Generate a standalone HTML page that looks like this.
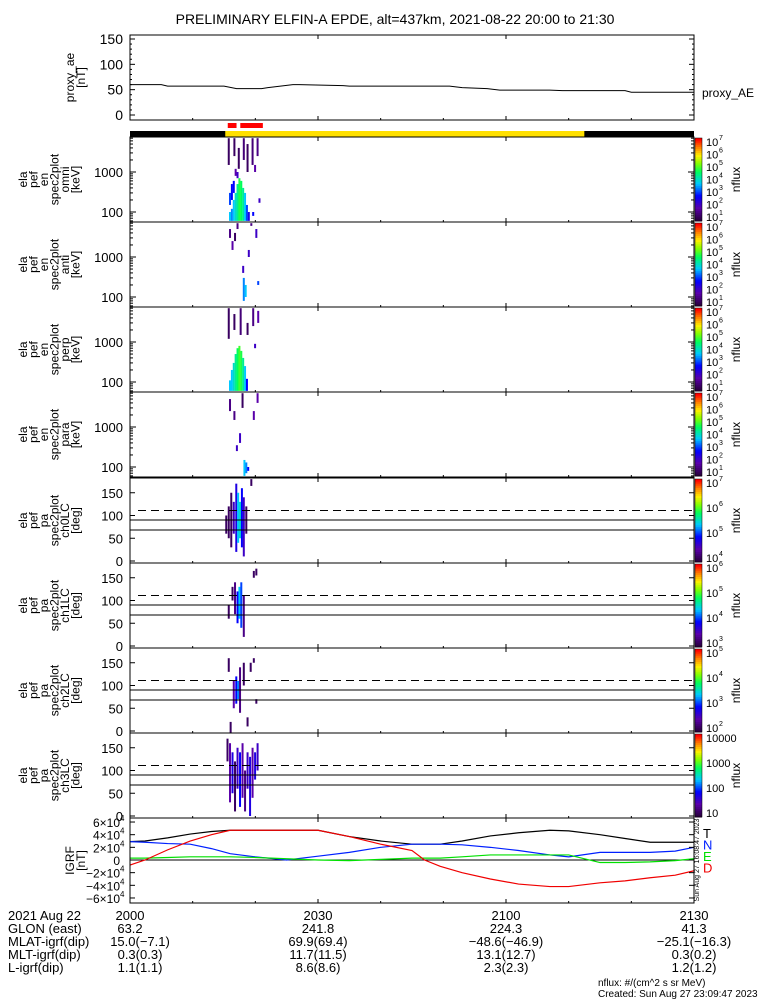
<!DOCTYPE html>
<html><head><meta charset="utf-8"><style>
html,body{margin:0;padding:0;background:#fff;}
svg{display:block;font-family:"Liberation Sans",sans-serif;}
</style></head><body>
<svg id="chart" width="775" height="1000" viewBox="0 0 775 1000" xmlns="http://www.w3.org/2000/svg">
<text x="395" y="24" font-size="14" text-anchor="middle">PRELIMINARY ELFIN-A EPDE, alt=437km, 2021-08-22 20:00 to 21:30</text>
<g id="g"></g>
</svg>
<script>
// ---------- data ----------
const aeTimes = [0, 5, 6, 15, 17, 21, 22, 26, 27, 34, 35, 51, 53, 57, 59, 67, 69, 79, 80, 90];
const aeValues = [60, 60, 57, 57, 52, 52, 54, 60, 60, 58, 57, 57, 54, 52, 49, 49, 48, 48, 45, 45];
const igrfTimes = [0, 2.4, 6, 9.6, 13, 16, 20, 25, 30, 35, 40, 45, 47, 49.5, 53, 57.5, 62, 67, 70, 75, 79, 83, 87, 90];
const igrfT = [29, 30, 35, 41, 45, 47, 47, 47, 47, 37, 30, 25, 25, 25, 30, 38, 43, 47, 46, 40, 34, 28, 28, 28];
const igrfD = [-8, 0, 16, 30, 40, 47, 47, 47, 47, 37, 25, 15, 0, -10, -20, -30, -38, -42, -42, -36, -33, -28, -24, -17];
const igrfN = [29, 28, 26, 25, 18, 10, 5, 0, 6, 12, 20, 25, 25, 25, 24, 20, 15, 8, 5, 12, 12, 12, 14, 20];
const igrfE = [3, 3, 4, 5, 5, 5, 4, 2, 0, -1, 1, 3, 3, 3, 5, 8, 8, 8, 8, -4, -4, -3, -1, 2];
const xTickLabels = ["2000", "2030", "2100", "2130"];
const xTickTimes = [0, 30, 60, 90];
const redBars = [[15.6, 17.0], [17.6, 21.2]];
const dayStart = 15.2, dayEnd = 72.5;
// spectrogram stripes: [time min, low, high, level 0..1]
const specOmni = [[15.8,60,100,.45],[15.8,150,300,.35],[16.1,60,120,.4],[16.1,200,500,.3],[16.4,60,200,.45],[16.4,300,600,.3],[16.7,60,300,.5],[16.7,800,1200,.15],[17.0,60,500,.55],[17.0,700,1000,.2],[17.3,60,700,.62],[17.6,60,600,.6],[17.9,60,400,.55],[18.2,60,300,.45],[18.5,60,150,.35],[18.8,60,100,.25],[15.6,1500,7000,.05],[16.5,2500,7000,.05],[17.2,1200,4000,.05],[18.0,2000,7000,.08],[18.6,1000,5000,.05],[19.4,1500,7000,.08],[20.2,2500,7000,.1],[19.8,1000,1500,.15],[20.5,170,220,.2],[19.5,80,100,.3]];
const specAnti = [[15.8,3000,5000,.1],[16.2,1500,2500,.15],[17.0,5000,7000,.1],[17.9,400,600,.2],[18.0,80,300,.4],[18.3,100,200,.45],[20.0,3000,5000,.2],[18.8,1000,1500,.2],[20.3,200,250,.35],[16.6,2500,4000,.05],[19.2,6000,7000,.1]];
const specPerp = [[15.8,60,110,.45],[16.1,60,200,.45],[16.4,60,300,.5],[16.7,60,500,.55],[17.0,60,700,.6],[17.3,60,800,.65],[17.6,60,600,.62],[17.9,60,400,.55],[18.2,60,250,.45],[18.5,60,120,.3],[15.6,1200,7000,.05],[16.5,2000,5000,.05],[17.5,1500,7000,.08],[18.6,1500,3000,.05],[19.5,2500,7000,.1],[20.3,3000,6000,.15],[19.8,700,900,.2]];
const specPara = [[15.8,2500,5000,.1],[16.5,1500,2500,.1],[17.4,400,700,.2],[17.8,3000,7000,.05],[18.1,60,150,.45],[18.4,70,130,.4],[18.7,80,100,.3],[19.6,1500,2500,.15],[20.2,4000,7000,.15],[16.9,250,350,.2]];
const pa0 = [[15.2,60,100,.05],[15.6,50,120,.05],[16.0,30,150,.05],[16.4,60,130,.2],[16.8,20,170,.25],[17.1,40,150,.45],[17.4,50,130,.5],[17.7,30,160,.3],[18.0,10,140,.2],[18.4,60,120,.05],[19.2,165,180,.05]];
const pa1 = [[15.6,60,90,.05],[16.2,100,130,.05],[16.6,70,140,.1],[17.0,50,120,.3],[17.3,60,130,.45],[17.6,40,140,.35],[18.0,20,110,.1],[19.6,150,165,.05],[20.0,155,170,.05]];
const pa2 = [[15.6,130,160,.05],[15.9,-10,20,.05],[16.4,50,110,.15],[16.8,60,120,.3],[17.1,70,110,.4],[17.4,40,140,.1],[18.0,100,150,.05],[19.1,130,150,.05],[19.6,150,160,.05],[18.6,10,30,.05],[20.0,60,70,.05]];
const pa3 = [[15.4,120,170,.05],[15.8,30,160,.15],[16.2,50,140,.25],[16.6,10,120,.05],[17.0,60,150,.2],[17.4,20,140,.3],[17.8,40,160,.15],[18.2,10,100,.1],[18.6,60,140,.2],[19.0,0,130,.25],[19.4,40,150,.15],[19.8,80,140,.25],[20.2,100,160,.2]];

// ---------- geometry ----------
const NS="http://www.w3.org/2000/svg";
const g=document.getElementById('g');
const X0=130,X1=694;
const xs=t=>X0+(X1-X0)*t/90;
function el(tag,attrs,parent){const e=document.createElementNS(NS,tag);for(const k in attrs)e.setAttribute(k,attrs[k]);(parent||g).appendChild(e);return e;}
function txt(s,x,y,size,anchor,parent,extra){const e=el('text',Object.assign({x:x,y:y,'font-size':size,'text-anchor':anchor||'start'},extra||{}),parent);e.textContent=s;return e;}
const stops=[[0,[40,0,60]],[.15,[90,0,170]],[.3,[0,0,255]],[.45,[0,200,255]],[.6,[0,255,90]],[.7,[130,255,0]],[.8,[255,240,0]],[.9,[255,130,0]],[1,[255,0,0]]];
function cmap(v){for(let i=1;i<stops.length;i++){if(v<=stops[i][0]){const a=stops[i-1],b=stops[i],f=(v-a[0])/(b[0]-a[0]);const c=a[1].map((q,j)=>Math.round(q+(b[1][j]-q)*f));return `rgb(${c})`;}}return 'rgb(255,0,0)';}

function frame(y0,y1,name){
  const f=el('rect',{x:X0,y:y0,width:X1-X0,height:y1-y0,fill:'none',stroke:'#000','stroke-width':1});
  
  xTickTimes.forEach(t=>{el('line',{x1:xs(t),x2:xs(t),y1:y1,y2:y1-4,stroke:'#000'});el('line',{x1:xs(t),x2:xs(t),y1:y0,y2:y0+4,stroke:'#000'});});
  for(let t=10;t<90;t+=10){if(t%30)el('line',{x1:xs(t),x2:xs(t),y1:y1,y2:y1-2,stroke:'#000'});}
}
function ylabel(lines,y0,y1,xStart,step){
  const cy=(y0+y1)/2;const grp=el('g',{});
  
  lines.forEach((s,i)=>{const x=xStart+i*step;txt(s,x,cy,12,'middle',grp,{transform:`rotate(-90 ${x} ${cy})`});});
}
function colorbar(y0,y1,labels){
  const grp=el('g',{});
  const n=40;for(let i=0;i<n;i++){el('rect',{x:695,y:y1-(i+1)*(y1-y0)/n,width:7,height:(y1-y0)/n+0.5,fill:cmap(i/(n-1))},grp);}
  el('rect',{x:695,y:y0,width:7,height:y1-y0,fill:'none',stroke:'#000','stroke-width':.5},grp);
  labels.forEach((s,i)=>{const y=y1-4-i*(y1-y0-8)/(labels.length-1);txt(s[0],706,y+4,11,'start',grp);if(s[1])txt(s[1],719,y-2,7,'start',grp);});
  const cy=(y0+y1)/2;txt('nflux',740,cy,12,'middle',grp,{transform:`rotate(-90 740 ${cy})`});
}

// ---------- proxy AE ----------
{const y0=35,y1=120;frame(y0,y1,'proxy-ae');
const ys=v=>115-v*(76/150);
[0,50,100,150].forEach(v=>{txt(String(v),123,ys(v)+5,14,'end');el('line',{x1:X0,x2:X0+5,y1:ys(v),y2:ys(v),stroke:'#000'});el('line',{x1:X1,x2:X1-5,y1:ys(v),y2:ys(v),stroke:'#000'});});
for(let v=10;v<150;v+=10){if(v%50){el('line',{x1:X0,x2:X0+2,y1:ys(v),y2:ys(v),stroke:'#000'});el('line',{x1:X1,x2:X1-2,y1:ys(v),y2:ys(v),stroke:'#000'});}}
const p=el('polyline',{points:aeTimes.map((t,i)=>xs(t)+','+ys(aeValues[i])).join(' '),fill:'none',stroke:'#000','stroke-width':1});

ylabel(['proxy_ae','[nT]'],y0,y1,74,11);
const l=txt('proxy_AE',702,97,12,'start');}

// ---------- orbit bar ----------
{const b=el('rect',{x:X0,y:131,width:X1-X0,height:6,fill:'#000'});
const d=el('rect',{x:xs(dayStart),y:131,width:xs(dayEnd)-xs(dayStart),height:6,fill:'#ffe000'});
redBars.forEach(r=>{const e=el('rect',{x:xs(r[0]),y:123,width:xs(r[1])-xs(r[0]),height:5,fill:'#f00'});});}

// ---------- energy spectrograms ----------
const ePanels=[[specOmni,'omni'],[specAnti,'anti'],[specPerp,'perp'],[specPara,'para']];
ePanels.forEach((pp,k)=>{
  const y0=137+k*85,y1=y0+85;
  const ys=e=>Math.min(y1,Math.max(y0,y0+35-40*(Math.log10(e)-3)));
  const grp=el('g',{});
  pp[0].forEach(s=>{const a=ys(s[2]),b=ys(s[1]);el('rect',{x:xs(s[0]),y:a,width:2,height:Math.max(1,b-a),fill:cmap(s[3])},grp);});
  frame(y0,y1,'energy-'+pp[1]);
  [100,1000].forEach(v=>{txt(String(v),123,ys(v)+5,13,'end');el('line',{x1:X0,x2:X0+6,y1:ys(v),y2:ys(v),stroke:'#000'});el('line',{x1:X1,x2:X1-6,y1:ys(v),y2:ys(v),stroke:'#000'});});
  [60,70,80,90,200,300,400,500,600,700,800,900,2000,3000,4000,5000,6000,7000].forEach(v=>{const y=ys(v);if(y>y0&&y<y1){el('line',{x1:X0,x2:X0+3,y1:y,y2:y,stroke:'#000'});el('line',{x1:X1,x2:X1-3,y1:y,y2:y,stroke:'#000'});}});
  ylabel(['ela','pef','en','spec2plot',pp[1],'[keV]'],y0,y1,27,10.5);
  colorbar(y0+1,y1-1,[['10','1'],['10','2'],['10','3'],['10','4'],['10','5'],['10','6'],['10','7']].slice(0,7));
});

// ---------- pitch-angle spectrograms ----------
const paPanels=[[pa0,'ch0LC'],[pa1,'ch1LC'],[pa2,'ch2LC'],[pa3,'ch3LC']];
const paCbar=[[['10','4'],['10','5'],['10','6'],['10','7']],[['10','3'],['10','4'],['10','5'],['10','6']],[['10','2'],['10','3'],['10','4'],['10','5']],[['10',''],['100',''],['1000',''],['10000','']]];
paPanels.forEach((pp,k)=>{
  const y0=478+k*85,y1=y0+85;
  const ys=v=>Math.min(y1,Math.max(y0,y1-2-v*0.455));
  const grp=el('g',{});
  pp[0].forEach(s=>{const a=ys(s[2]),b=ys(s[1]);el('rect',{x:xs(s[0]),y:a,width:2,height:Math.max(1,b-a),fill:cmap(s[3])},grp);});
  el('line',{x1:X0+8,x2:X1,y1:ys(111),y2:ys(111),stroke:'#000','stroke-dasharray':'8,5'});
  el('line',{x1:X0,x2:X1,y1:ys(90),y2:ys(90),stroke:'#000'});
  el('line',{x1:X0,x2:X1,y1:ys(68),y2:ys(68),stroke:'#000'});
  frame(y0,y1,'pa-'+pp[1]);
  [0,50,100,150].forEach(v=>{txt(String(v),123,ys(v)+5,13,'end');el('line',{x1:X0,x2:X0+5,y1:ys(v),y2:ys(v),stroke:'#000'});el('line',{x1:X1,x2:X1-5,y1:ys(v),y2:ys(v),stroke:'#000'});});
  ylabel(['ela','pef','pa','spec2plot',pp[1],'[deg]'],y0,y1,27,10.5);
  colorbar(y0+1,y1-1,paCbar[k]);
});

// ---------- IGRF ----------
{const y0=818,y1=903;
const ys=v=>860-v*0.633;
el('line',{x1:X0,x2:X1,y1:ys(0),y2:ys(0),stroke:'#000'});
const series=[[igrfT,'#000','T'],[igrfN,'#0020ff','N'],[igrfE,'#00e000','E'],[igrfD,'#f00000','D']];
series.forEach((s,i)=>{const p=el('polyline',{points:igrfTimes.map((t,j)=>xs(t)+','+ys(s[0][j])).join(' '),fill:'none',stroke:s[1],'stroke-width':1.2});

const l=txt(s[2],703,838+i*11.5,13,'start',null,{fill:s[1]});});
frame(y0,y1,'igrf');
[[6,'6×10'],[4,'4×10'],[2,'2×10'],[0,'0'],[-2,'−2×10'],[-4,'−4×10'],[-6,'−6×10']].forEach(a=>{const y=ys(a[0]*10);
const t=txt(a[1],120,y+5,12,'end');if(a[0]!==0)txt('4',120,y-1,8,'start');el('line',{x1:X0,x2:X0+5,y1:y,y2:y,stroke:'#000'});el('line',{x1:X1,x2:X1-5,y1:y,y2:y,stroke:'#000'});});
ylabel(['IGRF','[nT]'],y0,y1,74,11);
const st=txt('Sun Aug 27 16:08:47 2023',699,860,7,'middle',null,{transform:'rotate(-90 699 860)'});}

// ---------- bottom annotation ----------
{const grp=el('g',{});
const rows=[['2021 Aug 22',xTickLabels],['GLON (east)',['63.2','241.8','224.3','41.3']],['MLAT-igrf(dip)',['15.0(−7.1)','69.9(69.4)','−48.6(−46.9)','−25.1(−16.3)']],['MLT-igrf(dip)',['0.3(0.3)','11.7(11.5)','13.1(12.7)','0.3(0.2)']],['L-igrf(dip)',['1.1(1.1)','8.6(8.6)','2.3(2.3)','1.2(1.2)']]];
rows.forEach((r,i)=>{const y=920+i*13;txt(r[0],8,y,13,'start',grp);r[1].forEach((v,j)=>txt(v,xs(xTickTimes[j])+(j===0&&i>1?10:0),y,13,'middle',grp));});
txt('nflux: #/(cm^2 s sr MeV)',598,986,10,'start',grp);
txt('Created: Sun Aug 27 23:09:47 2023',598,997,10,'start',grp);}
</script>
</body></html>
